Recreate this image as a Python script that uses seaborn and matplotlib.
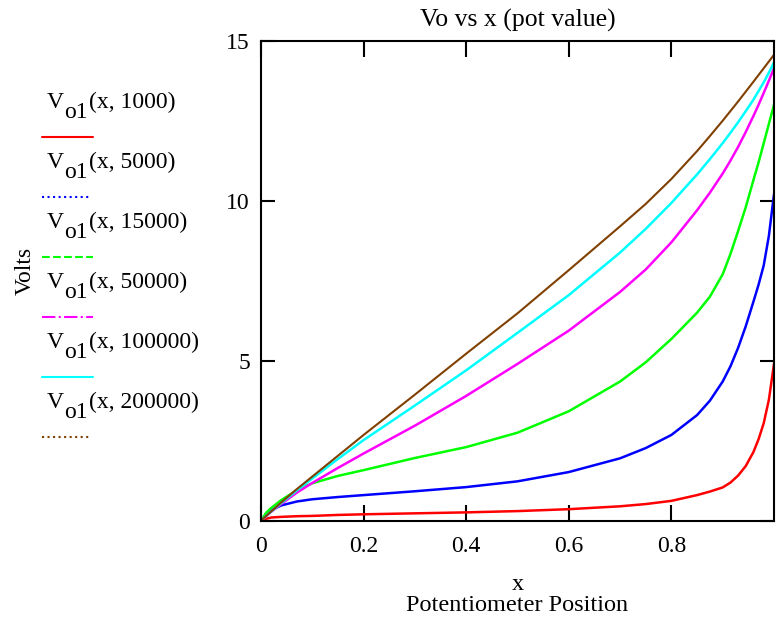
import numpy as np
import pandas as pd
import matplotlib
matplotlib.use("Agg")
import matplotlib.pyplot as plt
from matplotlib.lines import Line2D
import seaborn as sns

# pot position (shared x grid) and readings of Vo1 for each load resistance
x_pos = [0, 0.01, 0.02, 0.04, 0.07, 0.1, 0.15, 0.2, 0.3, 0.4, 0.5, 0.6, 0.7,
         0.75, 0.8, 0.85, 0.875, 0.9, 0.915, 0.93, 0.945, 0.96, 0.97, 0.98, 0.99, 1.0]

v_1000 = [0, 0.06, 0.10, 0.12, 0.14, 0.15, 0.18, 0.20, 0.23, 0.26, 0.30, 0.36, 0.45,
          0.52, 0.62, 0.80, 0.91, 1.04, 1.19, 1.41, 1.71, 2.15, 2.55, 3.05, 3.78, 4.90]
v_5000 = [0, 0.20, 0.33, 0.48, 0.60, 0.67, 0.74, 0.80, 0.92, 1.05, 1.23, 1.52, 1.95,
          2.27, 2.68, 3.30, 3.75, 4.35, 4.82, 5.40, 6.08, 6.85, 7.38, 7.98, 8.90, 10.2]
v_15000 = [0, 0.25, 0.40, 0.65, 0.95, 1.17, 1.40, 1.58, 1.96, 2.30, 2.75, 3.42, 4.35,
           4.95, 5.68, 6.50, 7.00, 7.70, 8.33, 9.05, 9.80, 10.65, 11.2, 11.8, 12.4, 13.0]
v_50000 = [0, 0.14, 0.28, 0.53, 0.88, 1.18, 1.65, 2.10, 2.97, 3.90, 4.90, 5.94, 7.15,
           7.85, 8.70, 9.70, 10.25, 10.85, 11.25, 11.68, 12.15, 12.65, 13.0, 13.37, 13.75, 14.14]
v_100000 = [0, 0.15, 0.29, 0.56, 0.95, 1.32, 1.93, 2.52, 3.60, 4.70, 5.87, 7.05, 8.38,
            9.12, 9.93, 10.82, 11.3, 11.8, 12.12, 12.45, 12.8, 13.16, 13.43, 13.7, 14.0, 14.32]
v_200000 = [0, 0.15, 0.29, 0.58, 0.99, 1.38, 2.03, 2.68, 3.94, 5.22, 6.48, 7.83, 9.20,
            9.90, 10.68, 11.55, 12.02, 12.5, 12.8, 13.1, 13.41, 13.72, 13.93, 14.14, 14.35, 14.56]

loads = ["1000", "5000", "15000", "50000", "100000", "200000"]
colors = ["#ff0000", "#0000ff", "#00ff00", "#ff00ff", "#00ffff", "#804000"]
legend_styles = ["-", ":", "--", "-.", "-", ":"]

series = [v_1000, v_5000, v_15000, v_50000, v_100000, v_200000]
df = pd.concat([pd.DataFrame({"x": x_pos, "V": v, "R": r}) for r, v in zip(loads, series)],
               ignore_index=True)

sns.set_theme(style="white")
plt.rcParams['font.family'] = ['Liberation Serif', 'DejaVu Serif']

fig = plt.figure(figsize=(7.76, 6.2), dpi=100)
ax = fig.add_axes([261 / 776, 99.3 / 620, (774 - 261) / 776, 480 / 620])

sns.lineplot(data=df, x="x", y="V", hue="R", hue_order=loads, palette=colors,
             estimator=None, sort=False, legend=False, lw=1.8, ax=ax)
ax.lines[-1].set_linewidth(1.5)

ax.set_xlim(0, 1)
ax.set_ylim(0, 15)
ax.set_xticks([0, 0.2, 0.4, 0.6, 0.8])
ax.set_xticklabels(["0", "0.2", "0.4", "0.6", "0.8"])
ax.set_yticks([0, 5, 10, 15])
ax.set_yticklabels(["0", "5", "10", "15"])
ax.tick_params(axis="x", top=True, bottom=True, direction="in", length=11.5, width=1.5,
               pad=11, labelsize=17, colors="black")
ax.tick_params(axis="y", left=True, right=True, direction="in", length=10, width=1.5,
               pad=8, labelsize=17, colors="black")
for s in ax.spines.values():
    s.set_color("black")
    s.set_linewidth(1.5)

ax.set_title("Vo vs x (pot value)", fontsize=18.5, pad=10, color="black")
ax.set_xlabel("x\nPotentiometer Position", fontsize=17.5, linespacing=1.05, labelpad=12,
              color="black")
ax.set_ylabel("")
fig.text(25 / 776, 1 - 271 / 620, "Volts", rotation=90, fontsize=17,
         ha="center", va="center", color="black")

# legend drawn on the left like the original worksheet
for i, r in enumerate(loads):
    base = 108 + 60 * i
    yb = 1 - base / 620
    t1 = fig.text(47 / 776, yb, "V", fontsize=17, va="baseline", color="black")
    t2 = ax.annotate("o1", xy=(1, yb), xycoords=(t1, "figure fraction"),
                     xytext=(0.3, -7.5), textcoords="offset points",
                     fontsize=17, va="baseline", color="black", annotation_clip=False)
    ax.annotate("(x, " + r + ")", xy=(1, yb), xycoords=(t2, "figure fraction"),
                xytext=(0.5, 0), textcoords="offset points",
                fontsize=17, va="baseline", color="black", annotation_clip=False)
    ly = 1 - (base + 29) / 620
    x1 = 93 if legend_styles[i] in ("-", "--", "-.") else 90
    fig.add_artist(Line2D([42 / 776, x1 / 776], [ly, ly], color=colors[i],
                          ls=legend_styles[i], lw=1.5))

fig.savefig("out.png", dpi=100)
